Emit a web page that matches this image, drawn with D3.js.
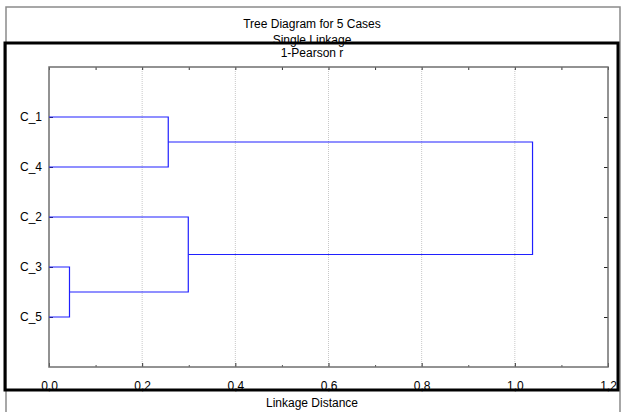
<!DOCTYPE html>
<html>
<head>
<meta charset="utf-8">
<script src="https://cdn.jsdelivr.net/npm/d3@7"></script>
<style>
  body { margin: 0; background: #fff; }
  text { font-family: "Liberation Sans", Arial, sans-serif; font-size: 12px; fill: #000; }
</style>
</head>
<body>
<script>
(function(){

//leaf cases, in the order they are drawn from top to bottom
var leaves = ["C_1", "C_4", "C_2", "C_3", "C_5"];

//merge steps: ids 0-4 are leaves, each merge makes the next id (5, 6, ...)
var mergeLeft  = [3, 0, 2, 6];
var mergeRight = [4, 1, 5, 7];
var mergeDist  = [0.044, 0.256, 0.299, 1.038];

var xTicks = [0, 0.2, 0.4, 0.6, 0.8, 1.0, 1.2];
var xMinorTicks = [0.1, 0.3, 0.5, 0.7, 0.9, 1.1];

var titleLines = ["Tree Diagram for 5 Cases", "Single Linkage", "1-Pearson r"];
var xTitle = "Linkage Distance";

window.onload = drawChart();

function drawChart(){

    var width = 623,
        height = 412;

    var svg = d3.select("body")
        .append("svg")
        .attr("width", width)
        .attr("height", height);

    //outer grey frame, runs off the bottom of the picture
    svg.append("rect")
        .attr("x", 6).attr("y", 7)
        .attr("width", 614).attr("height", 430)
        .attr("fill", "none")
        .attr("stroke", "#8a8a8a")
        .attr("stroke-width", 1.5);

    //title lines
    var titleY = [28, 43.5, 56.5];
    svg.selectAll(".title")
        .data(titleLines)
        .enter()
        .append("text")
        .attr("class", "title")
        .attr("x", 312)
        .attr("y", function(d, i){ return titleY[i]; })
        .attr("text-anchor", "middle")
        .text(function(d){ return d; });

    //plot area
    var left = 49, right = 608, top = 67, bottom = 367;

    var x = d3.scaleLinear()
        .domain([0, 1.2])
        .range([left, right]);

    var y = d3.scaleLinear()
        .domain([0, leaves.length + 1])
        .range([top, bottom]);

    //dotted vertical grid
    svg.selectAll(".grid")
        .data(xTicks.slice(1, -1))
        .enter()
        .append("line")
        .attr("class", "grid")
        .attr("x1", function(d){ return x(d); })
        .attr("x2", function(d){ return x(d); })
        .attr("y1", top).attr("y2", bottom)
        .attr("stroke", "#c8c8c8")
        .attr("stroke-dasharray", "1,1");

    //bottom axis with labels, ticks inward
    var fmt = function(d){ return d3.format(".1f")(d).replace(".", ","); };

    svg.append("g")
        .attr("transform", "translate(0," + bottom + ")")
        .call(d3.axisBottom(x).tickValues(xTicks).tickSize(-4).tickPadding(14).tickFormat(fmt))
        .call(function(g){
            g.select(".domain").remove();
            g.selectAll("text").style("font-size", "12px").attr("fill", "#000");
            g.selectAll("line").attr("stroke", "#333");
        });

    svg.append("g")
        .attr("transform", "translate(0," + bottom + ")")
        .call(d3.axisBottom(x).tickValues(xMinorTicks).tickSize(-2).tickFormat(""))
        .call(function(g){ g.select(".domain").remove(); g.selectAll("line").attr("stroke", "#555"); });

    //top axis, ticks only
    svg.append("g")
        .attr("transform", "translate(0," + top + ")")
        .call(d3.axisTop(x).tickValues(xTicks.concat(xMinorTicks)).tickSize(-3).tickFormat(""))
        .call(function(g){ g.select(".domain").remove(); g.selectAll("line").attr("stroke", "#333"); });

    //left axis with case labels
    var leafPos = leaves.map(function(d, i){ return i + 1; });

    svg.append("g")
        .attr("transform", "translate(" + left + ",0)")
        .call(d3.axisLeft(y).tickValues(leafPos).tickSize(-4).tickPadding(7)
            .tickFormat(function(d){ return leaves[d - 1]; }))
        .call(function(g){
            g.select(".domain").remove();
            g.selectAll("text").style("font-size", "12px").attr("fill", "#000");
            g.selectAll("line").attr("stroke", "#222");
        });

    //right axis, ticks only
    svg.append("g")
        .attr("transform", "translate(" + right + ",0)")
        .call(d3.axisRight(y).tickValues(leafPos).tickSize(-4).tickFormat(""))
        .call(function(g){ g.select(".domain").remove(); g.selectAll("line").attr("stroke", "#222"); });

    //plot border
    svg.append("rect")
        .attr("x", left).attr("y", top)
        .attr("width", right - left).attr("height", bottom - top)
        .attr("fill", "none")
        .attr("stroke", "#6f6f6f")
        .attr("stroke-width", 1.5);

    //node positions: leaves first, then merged clusters
    var nodeDist = leaves.map(function(){ return 0; });
    var nodePos = leafPos.slice();

    var links = [];
    for (var i=0; i<mergeDist.length; i++){
        var a = mergeLeft[i], b = mergeRight[i], d = mergeDist[i];
        links.push({ a: a, b: b, d: d,
            da: nodeDist[a], pa: nodePos[a], db: nodeDist[b], pb: nodePos[b] });
        nodeDist.push(d);
        nodePos.push((nodePos[a] + nodePos[b]) / 2);
    };

    svg.selectAll(".link")
        .data(links)
        .enter()
        .append("path")
        .attr("class", "link")
        .attr("d", function(l){
            return "M" + x(l.da) + "," + y(l.pa) +
                "H" + x(l.d) +
                "V" + y(l.pb) +
                "H" + x(l.db);
        })
        .attr("fill", "none")
        .attr("stroke", "#2020ff")
        .attr("stroke-width", 1.2);

    //x axis title
    svg.append("text")
        .attr("x", 312)
        .attr("y", 407)
        .attr("text-anchor", "middle")
        .text(xTitle);

    //heavy black frame around the graph
    svg.append("rect")
        .attr("x", 5).attr("y", 43)
        .attr("width", 613).attr("height", 347)
        .attr("fill", "none")
        .attr("stroke", "#000")
        .attr("stroke-width", 3);
};

})();
</script>
</body>
</html>
